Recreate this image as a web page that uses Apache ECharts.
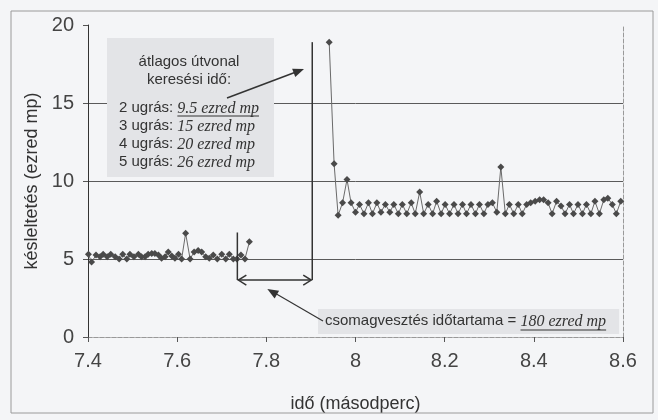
<!DOCTYPE html>
<html>
<head>
<meta charset="utf-8">
<script src="https://cdn.jsdelivr.net/npm/echarts@6/dist/echarts.min.js"></script>
<style>
  html, body { margin: 0; padding: 0; background: #f4f5f7; }
  #chart { width: 658px; height: 420px; }
</style>
</head>
<body>
<div id="chart"></div>
<script>
// Delay samples before the packet loss (time in s, delay in ms)
const timeBefore = [7.401, 7.408, 7.418, 7.427, 7.434, 7.443, 7.451, 7.461, 7.470, 7.478,
  7.487, 7.494, 7.503, 7.513, 7.520, 7.528, 7.535, 7.543, 7.550, 7.558,
  7.565, 7.573, 7.580, 7.588, 7.595, 7.603, 7.610, 7.619, 7.629, 7.638,
  7.647, 7.655, 7.664, 7.672, 7.681, 7.690, 7.700, 7.709, 7.717, 7.726,
  7.734, 7.743, 7.752, 7.762];
const delayBefore = [5.3, 4.8, 5.25, 5.15, 5.3, 5.15, 5.3, 5.15, 5.0, 5.3,
  5.0, 5.3, 5.15, 5.3, 5.15, 5.15, 5.3, 5.35, 5.35, 5.25,
  5.05, 5.15, 5.45, 5.2, 5.05, 5.3, 5.0, 6.65, 5.0, 5.45,
  5.55, 5.45, 5.15, 5.05, 5.25, 5.0, 5.3, 5.0, 5.3, 5.0,
  5.0, 5.25, 5.0, 6.1];

// Delay samples after the route is re-established
const timeAfter = [7.941, 7.952, 7.961, 7.971, 7.981, 7.990, 8.000, 8.009, 8.019, 8.029,
  8.038, 8.048, 8.057, 8.067, 8.077, 8.086, 8.096, 8.105, 8.115, 8.125,
  8.134, 8.144, 8.153, 8.163, 8.173, 8.182, 8.192, 8.201, 8.211, 8.221,
  8.230, 8.240, 8.249, 8.259, 8.269, 8.278, 8.288, 8.297, 8.307, 8.317,
  8.326, 8.336, 8.345, 8.355, 8.365, 8.374, 8.384, 8.393, 8.403, 8.413,
  8.422, 8.432, 8.441, 8.451, 8.461, 8.470, 8.480, 8.489, 8.499, 8.509,
  8.518, 8.528, 8.537, 8.547, 8.557, 8.566, 8.576, 8.585, 8.595];
const delayAfter = [18.9, 11.1, 7.8, 8.6, 10.1, 8.6, 8.0, 8.5, 7.9, 8.6,
  7.9, 8.6, 8.0, 8.5, 8.0, 8.5, 7.9, 8.5, 7.9, 8.6,
  7.9, 9.3, 7.9, 8.5, 7.9, 8.7, 7.9, 8.5, 7.9, 8.5,
  7.9, 8.5, 7.9, 8.5, 7.9, 8.5, 7.9, 8.5, 8.6, 8.0,
  10.9, 7.9, 8.5, 7.9, 8.5, 7.9, 8.5, 8.6, 8.7, 8.8,
  8.8, 8.6, 7.9, 8.7, 8.4, 7.9, 8.5, 7.9, 8.5, 7.9,
  8.5, 7.9, 8.7, 7.9, 8.8, 8.9, 8.5, 7.9, 8.7];

// Axis ranges / tick steps
const xRange = { min: 7.4, max: 8.6, step: 0.2 };
const yRange = { min: 0, max: 20, step: 5 };

// Callout texts
const routeTitle = ['átlagos útvonal', 'keresési idő:'];
const hopLabels = ['2 ugrás: ', '3 ugrás: ', '4 ugrás: ', '5 ugrás: '];
const hopValues = ['9.5 ezred mp', '15 ezred mp', '20 ezred mp', '26 ezred mp'];
const lossLabel = 'csomagvesztés időtartama = ';
const lossValue = '180 ezred mp';

// Loss interval markers (s) and levels (ms)
const lossStart = 7.735, lossEnd = 7.903;
const lossArrowLevel = 3.65, lossStartTop = 6.7, lossEndTop = 18.9;

const SANS = '"Liberation Sans", Arial, sans-serif';
const SERIF = '"Liberation Serif", "Times New Roman", serif';
const TXT = '#333';

const chart = echarts.init(document.getElementById('chart'));

const lineSeries = (xs, ys) => ({
  type: 'line',
  data: xs.map((t, i) => [t, ys[i]]),
  symbol: 'diamond',
  symbolSize: 7,
  showSymbol: true,
  itemStyle: { color: '#4a4a4a' },
  lineStyle: { color: '#6a6a6a', width: 1 },
  animation: false,
  z: 3
});

chart.setOption({
  backgroundColor: '#f4f5f7',
  animation: false,
  grid: { left: 88, right: 35, top: 25, bottom: 83 },
  xAxis: [{
    type: 'value',
    min: xRange.min, max: xRange.max, interval: xRange.step,
    name: 'idő (másodperc)', nameLocation: 'middle', nameGap: 58,
    nameTextStyle: { fontFamily: SANS, fontSize: 18, color: TXT },
    axisLine: { onZero: false, lineStyle: { color: '#777', type: 'dashed', width: 1 } },
    axisTick: { show: true, length: 5, lineStyle: { color: '#555' } },
    axisLabel: { fontFamily: SANS, fontSize: 20, color: '#444', margin: 14,
      formatter: v => String(Math.round(v * 10) / 10) },
    splitLine: { show: false }
  }, {
    type: 'value', position: 'top',
    min: xRange.min, max: xRange.max, interval: xRange.step,
    axisLine: { show: true, lineStyle: { color: '#999', type: 'dashed', width: 1 } },
    axisTick: { show: false }, axisLabel: { show: false }, splitLine: { show: false }
  }],
  yAxis: [{
    type: 'value',
    min: yRange.min, max: yRange.max, interval: yRange.step,
    name: 'késleltetés (ezred mp)', nameLocation: 'middle', nameGap: 46,
    nameTextStyle: { fontFamily: SANS, fontSize: 18, color: TXT },
    axisLine: { show: true, onZero: false, lineStyle: { color: '#333', width: 1 } },
    axisTick: { show: true, length: 5, lineStyle: { color: '#555' } },
    axisLabel: { fontFamily: SANS, fontSize: 20, color: '#444', margin: 14 },
    splitLine: { show: true, lineStyle: {
      color: ['rgba(0,0,0,0)', '#5a5a5a', '#5a5a5a', '#5a5a5a', 'rgba(0,0,0,0)'], width: 1 } }
  }, {
    type: 'value', position: 'right',
    min: yRange.min, max: yRange.max, interval: yRange.step,
    axisLine: { show: true, lineStyle: { color: '#999', type: 'dashed', width: 1 } },
    axisTick: { show: false }, axisLabel: { show: false }, splitLine: { show: false }
  }],
  series: [lineSeries(timeBefore, delayBefore), lineSeries(timeAfter, delayAfter)]
});

// ---- annotations ----
const measureCtx = document.createElement('canvas').getContext('2d');
function textWidth(str, font) { measureCtx.font = font; return measureCtx.measureText(str).width; }
const px = (x, y) => chart.convertToPixel({ xAxisIndex: 0, yAxisIndex: 0 }, [x, y]);

function text(str, x, y, font, align) {
  return { type: 'text', z: 110, style: { text: str, x, y, font, fill: TXT,
    align: align || 'left', verticalAlign: 'middle', textAlign: align || 'left', textVerticalAlign: 'middle' } };
}
function seg(x1, y1, x2, y2, w, color) {
  return { type: 'line', z: 110, shape: { x1, y1, x2, y2 },
    style: { stroke: color || '#333', lineWidth: w || 1 } };
}
// Arrow head at (tx,ty) pointing away from (fx,fy)
function head(tx, ty, fx, fy, len, half, filled) {
  const dx = tx - fx, dy = ty - fy, d = Math.hypot(dx, dy);
  const ux = dx / d, uy = dy / d, nx = -uy, ny = ux;
  const bx = tx - ux * len, by = ty - uy * len;
  const p1 = [bx + nx * half, by + ny * half], p2 = [bx - nx * half, by - ny * half];
  if (filled) {
    return { type: 'polygon', z: 111, shape: { points: [[tx, ty], p1, p2] },
      style: { fill: '#333' } };
  }
  return { type: 'polyline', z: 111, shape: { points: [p1, [tx, ty], p2] },
    style: { stroke: '#333', lineWidth: 1.5, fill: null } };
}

const els = [];
// outer frame
els.push({ type: 'rect', z: 1, shape: { x: 11, y: 11, width: 642, height: 402 },
  style: { fill: null, stroke: '#9a9a9a', lineWidth: 1 } });

// route lookup callout
const sansF = '15px ' + SANS, serifF = 'italic 16px ' + SERIF;
els.push({ type: 'rect', z: 105, shape: { x: 107, y: 38, width: 167, height: 139 },
  style: { fill: '#e3e4e7' } });
els.push(text(routeTitle[0], 189, 62, sansF, 'center'));
els.push(text(routeTitle[1], 189, 80, sansF, 'center'));
hopLabels.forEach((lab, i) => {
  const y = 108 + i * 18, x0 = 119;
  const w = textWidth(lab, sansF);
  els.push(text(lab, x0, y, sansF));
  els.push(text(hopValues[i], x0 + w, y + 1, serifF));
  if (i === 0) {
    const w2 = textWidth(hopValues[i], serifF);
    els.push(seg(x0 + w, y + 8, x0 + w + w2, y + 8, 1, '#333'));
  }
});
// arrow from callout towards the spike
els.push(seg(227, 98, 296, 72, 1.5));
els.push(head(304, 69, 227, 98, 11, 4.5, true));

// loss interval: vertical markers and double arrow
const a0 = px(lossStart, lossStartTop), a1 = px(lossStart, lossArrowLevel);
const b0 = px(lossEnd, lossEndTop), b1 = px(lossEnd, lossArrowLevel);
els.push(seg(a0[0], a0[1], a1[0], a1[1], 1.5));
els.push(seg(b0[0], b0[1], b1[0], b1[1], 1.5));
els.push(seg(a1[0] + 1, a1[1], b1[0] - 1, b1[1], 1.5));
els.push(head(a1[0] + 1, a1[1], b1[0], b1[1], 8, 5, false));
els.push(head(b1[0] - 1, b1[1], a1[0], a1[1], 8, 5, false));

// loss duration callout
const lw = textWidth(lossLabel, sansF), vw = textWidth(lossValue, serifF);
const lx = 325, ly = 321;
els.push({ type: 'rect', z: 105, shape: { x: lx - 7, y: 309, width: lw + vw + 20, height: 25 },
  style: { fill: '#e3e4e7' } });
els.push(text(lossLabel, lx, ly, sansF));
els.push(text(lossValue, lx + lw, ly + 1, serifF));
els.push(seg(lx + lw, ly + 9, lx + lw + vw, ly + 9, 1, '#333'));
// arrow from the duration label to the interval
const tip = [a1[0] + (b1[0] - a1[0]) * 0.4, a1[1] + 9];
els.push(seg(lx - 2, ly, tip[0] + 4, tip[1] + 2, 1.2));
els.push(head(tip[0], tip[1], lx - 2, ly, 11, 4.5, true));

chart.setOption({ graphic: { elements: els } });
</script>
</body>
</html>
